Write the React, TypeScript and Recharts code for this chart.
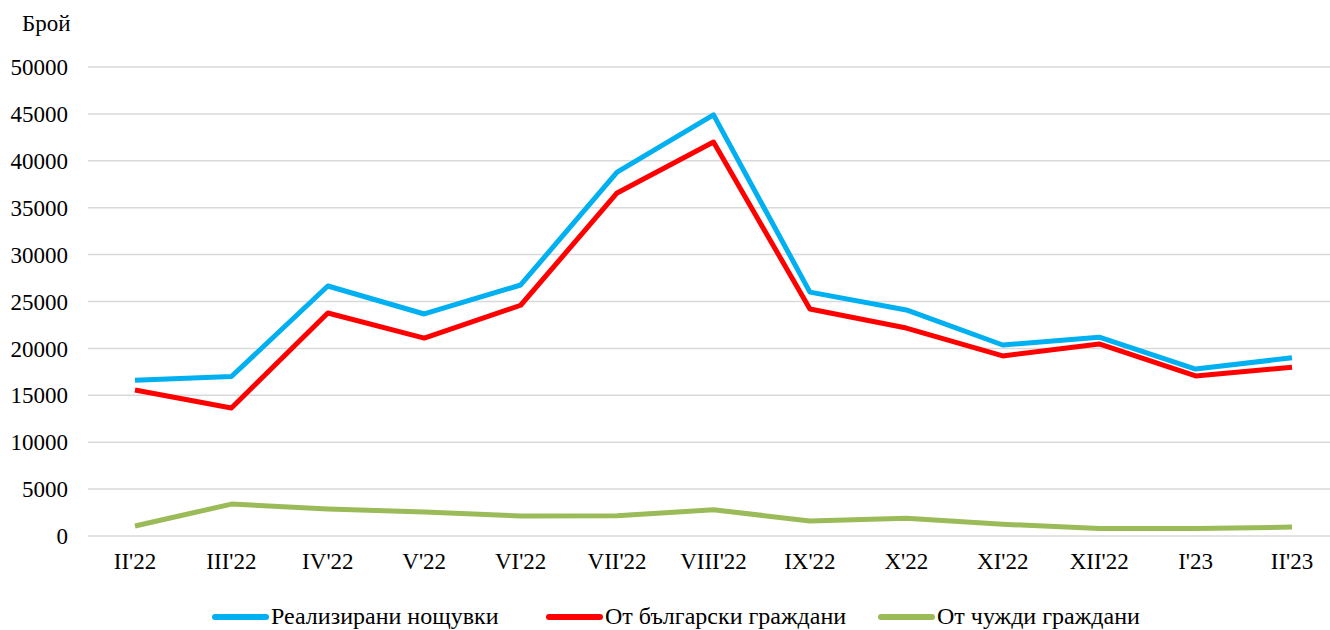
import { LineChart, Line, XAxis, YAxis, CartesianGrid } from "recharts";

const months = ["II'22", "III'22", "IV'22", "V'22", "VI'22", "VII'22", "VIII'22", "IX'22", "X'22", "XI'22", "XII'22", "I'23", "II'23"];
const totalNights = [16600, 17000, 26650, 23670, 26760, 38800, 44900, 26000, 24100, 20360, 21200, 17800, 19000];
const bulgarians = [15560, 13650, 23770, 21100, 24600, 36570, 42000, 24200, 22170, 19200, 20470, 17060, 18000];
const foreigners = [1070, 3400, 2880, 2560, 2130, 2150, 2800, 1600, 1900, 1250, 800, 800, 950];
const yTicks = [0, 5000, 10000, 15000, 20000, 25000, 30000, 35000, 40000, 45000, 50000];

const seriesInfo = [
  { key: "total", name: "Реализирани нощувки", color: "#00B0F0" },
  { key: "bg", name: "От български граждани", color: "#FF0000" },
  { key: "foreign", name: "От чужди граждани", color: "#9BBB59" },
];

const data = months.map((m, i) => ({
  month: m,
  total: totalNights[i],
  bg: bulgarians[i],
  foreign: foreigners[i],
}));

const font = '"Times New Roman", "Liberation Serif", "DejaVu Serif", serif';

function CustomLegend() {
  const offsets = [212, 546, 878];
  return (
    <div style={{ position: "absolute", left: 0, top: 603, width: 1330, height: 27, fontFamily: font, fontSize: 24, color: "#000" }}>
      {seriesInfo.map((s, i) => (
        <div key={s.key} style={{ position: "absolute", left: offsets[i], top: 0, display: "flex", alignItems: "center", whiteSpace: "nowrap" }}>
          <span style={{ display: "inline-block", width: 57, height: 6, borderRadius: 3, background: s.color, marginRight: 2 }} />
          <span>{s.name}</span>
        </div>
      ))}
    </div>
  );
}

export default function App() {
  return (
    <div style={{ position: "absolute", left: 0, top: 0, width: 1330, height: 630, background: "#fff", overflow: "hidden", fontFamily: font }}>
      <div style={{ position: "absolute", left: 22, top: 11, fontFamily: font, fontSize: 23 }}>Брой</div>
      <LineChart width={1330} height={630} data={data} margin={{ top: 67, right: 0, bottom: 0, left: 0 }} style={{ fontFamily: font }}>
        <CartesianGrid vertical={false} stroke="#d9d9d9" strokeWidth={1.5} />
        <XAxis
          dataKey="month"
          axisLine={false}
          tickLine={false}
          height={94}
          padding={{ left: 47, right: 38 }}
          tick={{ fontFamily: font, fontSize: 23, fill: "#000" }}
          tickMargin={11}
          interval={0}
        />
        <YAxis
          width={88}
          domain={[0, 50000]}
          ticks={yTicks}
          axisLine={false}
          tickLine={false}
          tick={{ fontFamily: font, fontSize: 23, fill: "#000" }}
          tickMargin={14}
        />
        {seriesInfo.map((s) => (
          <Line
            key={s.key}
            dataKey={s.key}
            name={s.name}
            stroke={s.color}
            strokeWidth={5}
            dot={false}
            activeDot={false}
            isAnimationActive={false}
            strokeLinejoin="round"
          />
        ))}
      </LineChart>
      <CustomLegend />
    </div>
  );
}
